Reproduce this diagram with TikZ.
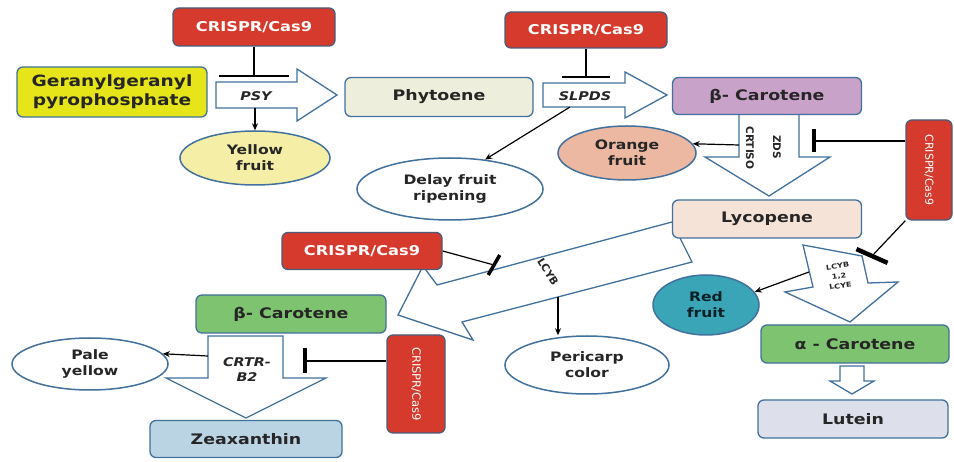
\documentclass[tikz,border=0pt]{standalone}
\usepackage{fontspec}
\newfontfamily\wfont{DejaVu Sans}[FakeStretch=1.2]
\newfontfamily\nfont{DejaVu Sans}
\usetikzlibrary{shapes.geometric,arrows.meta}
\definecolor{bord}{HTML}{41719C}
\definecolor{crred}{HTML}{D63A2C}
\definecolor{crbord}{HTML}{4B5D7A}
\definecolor{ggppY}{HTML}{E6E51A}
\definecolor{yfY}{HTML}{F4EEA6}
\definecolor{phyC}{HTML}{EEEEDC}
\definecolor{purC}{HTML}{C8A2C8}
\definecolor{orC}{HTML}{EDB8A2}
\definecolor{lycC}{HTML}{F5E3D7}
\definecolor{tealC}{HTML}{3BA5B8}
\definecolor{grC}{HTML}{7EC36F}
\definecolor{lutC}{HTML}{DDDFEA}
\definecolor{zeaC}{HTML}{BAD4E4}
\definecolor{txt}{HTML}{262626}
\begin{document}
\begin{tikzpicture}[x=1pt,y=-1pt,
  lbl/.style={font=\wfont\bfseries\fontsize{14.5}{17}\selectfont, text=txt, align=center, inner sep=0pt},
  box/.style={lbl, draw=bord, line width=1.3pt, rounded corners=6pt},
  crbox/.style={box, fill=crred, draw=crbord, text=white, font=\wfont\bfseries\fontsize{13.5}{16}\selectfont},
  crvert/.style={box, fill=crred, draw=crbord, text=white, font=\nfont\fontsize{11}{13}\selectfont},
  oval/.style={ellipse, lbl, draw=bord, line width=1.5pt, fill=white, font=\wfont\bfseries\fontsize{13}{16}\selectfont},
  barrow/.style={draw=bord, line width=1.3pt, fill=white, line join=miter},
  arr/.style={-{Stealth[length=7pt,width=6pt]}, line width=1.2pt, black},
  inh/.style={line width=1.2pt, black},
  ibar/.style={rectangle, fill=black, inner sep=0pt},
  gene/.style={font=\wfont\bfseries\itshape\fontsize{12}{14}\selectfont, text=txt, align=center, inner sep=0pt},
  vgene/.style={font=\nfont\bfseries\fontsize{10.5}{12}\selectfont, text=txt, inner sep=0pt}
]
\useasboundingbox (0,0) rectangle (954,462);
\fill[white] (0,0) rectangle (954,462);

% block arrows
\draw[barrow] (672,222) -- (437,285) -- (423,266) -- (398,315) -- (473,340) -- (462,322) -- (692,262) -- cycle;
\draw[barrow] (803,245) -- (813,287) -- (785,292) -- (850,322) -- (898,282) -- (868,283) -- (862,256) -- cycle;
\draw[barrow] (739,114) -- (799,114) -- (799,157) -- (830,157) -- (769,196) -- (705,157) -- (739,157) -- cycle;
\draw[barrow] (208,336) -- (283,336) -- (283,378) -- (326,378) -- (246,418) -- (166,378) -- (208,378) -- cycle;
\draw[barrow] (216,82) -- (297,82) -- (297,69) -- (337,95) -- (297,121) -- (297,108) -- (216,108) -- cycle;
\draw[barrow] (543,83) -- (625,83) -- (625,72) -- (667,95) -- (625,118) -- (625,107) -- (543,107) -- cycle;
\draw[barrow] (840,366) -- (864,366) -- (864,381) -- (874,381) -- (852,394) -- (830,381) -- (840,381) -- cycle;

% gene labels
\node[gene] (psy) at (256,96) {PSY};
\node[gene] (slpds) at (585,96) {SLPDS};
\node[gene] (crtr) at (247,370) {CRTR-\\[1pt]B2};
\node[vgene, rotate=-90] (zds) at (777,147) {ZDS};
\node[vgene, rotate=-90] (crtiso) at (750,148) {CRTISO};
\node[vgene, rotate=-58] (lcyb) at (548,272) {LCYB};
\node[font=\wfont\bfseries\fontsize{6.8}{10}\selectfont, text=txt, align=center, inner sep=0pt, rotate=8] (lcy2) at (839,276) {LCYB\\1,2\\LCYE};

% boxes
\node[crbox, minimum width=162pt, minimum height=38pt] (c1) at (254,27) {CRISPR/Cas9};
\node[box, fill=ggppY, minimum width=190pt, minimum height=50pt, font=\wfont\bfseries\fontsize{15.5}{19}\selectfont] (ggpp) at (112,92) {Geranylgeranyl\\pyrophosphate};
\node[oval, fill=yfY, minimum width=150pt, minimum height=54pt] (yf) at (255,158) {Yellow\\fruit};
\node[box, fill=phyC, minimum width=188pt, minimum height=39pt] (phy) at (439,97) {Phytoene};
\node[crbox, minimum width=162pt, minimum height=36pt] (c2) at (586,30) {CRISPR/Cas9};
\node[oval, minimum width=186pt, minimum height=62pt] (dfr) at (450,189) {Delay fruit\\ripening};
\node[box, fill=purC, minimum width=189pt, minimum height=37pt] (bc1) at (767,96) {β- Carotene};
\node[oval, fill=orC, minimum width=138pt, minimum height=54pt] (of) at (627,153) {Orange\\fruit};
\node[crvert, minimum width=46pt, minimum height=100pt] (c3) at (929,170) {\rotatebox{-90}{CRISPR/Cas9}};
\node[box, fill=lycC, minimum width=189pt, minimum height=38pt] (lyc) at (767,219) {Lycopene};
\node[oval, fill=tealC, text=black!80!tealC, minimum width=106pt, minimum height=60pt] (rf) at (706,305) {Red\\fruit};
\node[box, fill=grC, minimum width=188pt, minimum height=38pt] (ac) at (855,344) {α - Carotene};
\node[box, fill=lutC, minimum width=190pt, minimum height=38pt] (lut) at (853,419) {Lutein};
\node[crbox, minimum width=160pt, minimum height=37pt] (c4) at (362,251) {CRISPR/Cas9};
\node[oval, minimum width=164pt, minimum height=58pt] (peri) at (587,365) {Pericarp\\color};
\node[box, fill=grC, minimum width=190pt, minimum height=38pt] (bc2) at (291,314) {β- Carotene};
\node[oval, minimum width=156pt, minimum height=52pt] (py) at (90,364) {Pale\\yellow};
\node[crvert, minimum width=58pt, minimum height=98pt, font=\nfont\fontsize{11.5}{13}\selectfont] (c5) at (416,384) {\rotatebox{-90}{CRISPR/Cas9}};
\node[box, fill=zeaC, minimum width=192pt, minimum height=37pt] (zea) at (246,439) {Zeaxanthin};

% inhibition bars
\node[ibar, minimum width=70pt, minimum height=2.2pt] (b1) at (254,76) {};
\node[ibar, minimum width=48pt, minimum height=2.2pt] (b2) at (586,77) {};
\node[ibar, minimum width=4.5pt, minimum height=23pt] (b3) at (814,141) {};
\node[ibar, minimum width=34pt, minimum height=4.5pt, rotate=-24] (b4) at (872,256) {};
\node[ibar, minimum width=23pt, minimum height=3.5pt, rotate=60] (b5) at (494,265) {};
\node[ibar, minimum width=4.5pt, minimum height=25pt] (b6) at (305,361) {};

\draw[inh] (c1) -- (b1);
\draw[inh] (c2) -- (b2);
\draw[inh] (b3) -- (b3 -| c3.west);
\draw[inh] (c3.south west) -- (b4);
\draw[inh] (c4.east) -- (b5);
\draw[inh] (b6) -- (b6 -| c5.west);

% arrows
\coordinate (psyb) at (255,108);
\coordinate (slb) at (570,107);
\coordinate (zdl) at (739,145);
\coordinate (lcl) at (809,272);
\coordinate (bigb) at (558,297);
\coordinate (crl) at (208,356);
\draw[arr] (psyb) -- (yf);
\draw[arr] (slb) -- (dfr.40);
\draw[arr] (zdl) -- (of.8);
\draw[arr] (lcl) -- (rf.15);
\draw[arr] (bigb) -- (bigb |- peri.north);
\draw[arr] (crl) -- (py.8);
\end{tikzpicture}
\end{document}
